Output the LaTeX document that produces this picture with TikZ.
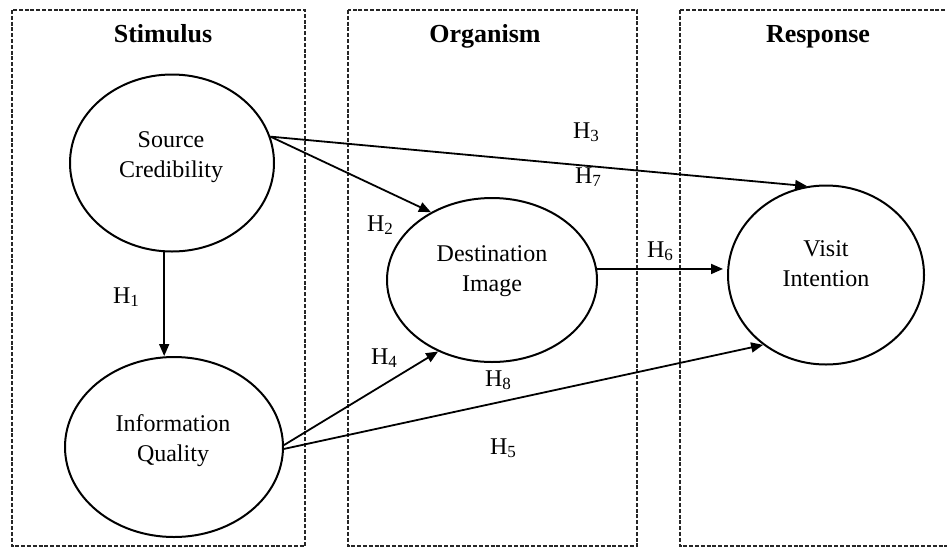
\documentclass[tikz,border=0pt]{standalone}
\usepackage{fontspec}
\setmainfont{Liberation Serif}
\usetikzlibrary{arrows.meta,shapes.geometric}
\newcommand\hyp[1]{H\raisebox{-3pt}{\fontsize{17}{17}\selectfont #1}}
\tikzset{
  panel/.style={draw=black!85, line width=1.8pt, dash pattern=on 4pt off 1.8pt},
  ell/.style={draw, ellipse, line width=2pt, inner sep=0pt},
  etext/.style={align=center, font=\fontsize{24}{30}\selectfont, inner sep=0pt},
  title/.style={font=\fontsize{26}{30}\selectfont\bfseries, inner sep=0pt, anchor=base},
  hlab/.style={font=\fontsize{24}{28}\selectfont, inner sep=0pt},
  arr/.style={line width=1.8pt, -{Triangle[length=12pt,width=10pt]}}
}
\begin{document}
\begin{tikzpicture}[x=1pt,y=-1pt]
\useasboundingbox (0,0) rectangle (947,547);
\fill[white] (0,0) rectangle (947,547);
\begin{scope}
\clip (0,0) rectangle (947,547);
\draw[panel] (12,10) rectangle (305,546);
\draw[panel] (348,10) rectangle (637,546);
\draw[panel] (680,10) rectangle (990,546);
\end{scope}

\node[title] (t1) at (163,42) {Stimulus};
\node[title] (t2) at (485,42) {Organism};
\node[title] (t3) at (818,42) {Response};

\node[ell, minimum width=204pt, minimum height=177pt] (sc) at (172,163) {};
\node[ell, minimum width=218pt, minimum height=180pt] (iq) at (174,447) {};
\node[ell, minimum width=210pt, minimum height=164pt] (di) at (492,280) {};
\node[ell, minimum width=196pt, minimum height=179pt] (vi) at (826,275) {};

\node[etext] (sct) at (171,157) {Source\\Credibility};
\node[etext] (iqt) at (173,441) {Information\\Quality};
\node[etext] (dit) at (492,271) {Destination\\Image};
\node[etext] (vit) at (826,264) {Visit\\Intention};

\draw[arr] (sc.265) -- (sc.265 |- iq.north);
\draw[arr] (sc.15) -- (di.132);
\draw[arr] (sc.15) -- (vi.102);
\draw[arr, shorten >=4pt] (di.6) -- (di.6 -| vi.west);
\draw[arr] (iq.1) -- (di.233);
\draw[arr] (iq.-1) -- (vi.228);

\node[hlab] (h1) at (126,297) {\hyp{1}};
\node[hlab] (h2) at (380,225) {\hyp{2}};
\node[hlab] (h3) at (586,132) {\hyp{3}};
\node[hlab] (h4) at (384,358) {\hyp{4}};
\node[hlab] (h5) at (503,448) {\hyp{5}};
\node[hlab] (h6) at (660,251) {\hyp{6}};
\node[hlab] (h7) at (588,177) {\hyp{7}};
\node[hlab] (h8) at (498,380) {\hyp{8}};
\end{tikzpicture}
\end{document}
